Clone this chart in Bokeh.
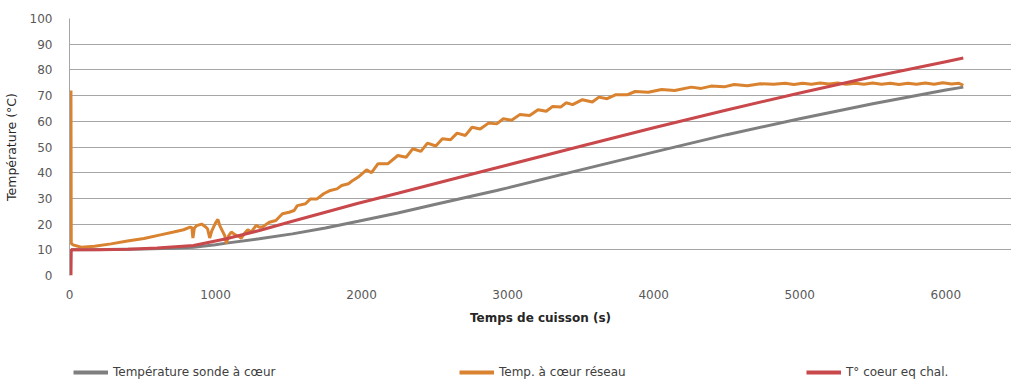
from bokeh.plotting import figure
from bokeh.models import Range1d, FixedTicker, Legend, LegendItem
from bokeh.layouts import column
from bokeh.embed import file_html
from bokeh.resources import INLINE

# ---- data ----
sonde_t = [10, 250, 500, 700, 849, 1000, 1074, 1300, 1526, 1752, 1977, 2248, 2500,
           2925, 3000, 3500, 4000, 4500, 5000, 5500, 6000, 6120]
sonde_T = [10, 10.1, 10.3, 10.6, 11.0, 12.0, 12.6, 14.3, 16.2, 18.5, 21.1, 24.3, 27.6,
           33.1, 34.1, 41.1, 48.0, 54.8, 61.0, 66.8, 72.2, 73.3]

reseau_t = [10, 12, 24, 81, 171, 284, 397, 510, 623, 713, 781, 826, 838, 845, 855, 871,
            905, 930, 945, 960, 975, 1000, 1016, 1029, 1050, 1063, 1074, 1090, 1108,
            1125, 1142, 1160, 1176, 1200, 1221, 1244, 1278, 1300, 1323, 1368, 1413,
            1458, 1504, 1538, 1560, 1616, 1650, 1695, 1740, 1786, 1831, 1864, 1910,
            1940, 1977, 2034, 2068, 2113, 2181, 2248, 2305, 2350, 2406, 2451, 2508,
            2553, 2609, 2654, 2711, 2756, 2812, 2869, 2925, 2971, 3027, 3083, 3151,
            3208, 3264, 3309, 3365, 3400, 3445, 3512, 3580, 3625, 3681, 3738, 3817,
            3873, 3963, 4054, 4144, 4257, 4325, 4393, 4483, 4551, 4641, 4731, 4822,
            4900, 4960, 5020, 5080, 5140, 5200, 5260, 5320, 5380, 5440, 5500, 5560,
            5620, 5680, 5740, 5800, 5860, 5920, 5980, 6040, 6090, 6120]
reseau_T = [72, 12.5, 11.9, 11.0, 11.4, 12.3, 13.4, 14.4, 15.8, 16.9, 17.8, 18.8, 18.6,
            14.6, 18.5, 19.4, 20.0, 19.0, 18.2, 14.6, 17.5, 20.5, 21.8, 19.4, 17.0,
            15.5, 12.5, 15.5, 16.9, 16.2, 15.6, 15.2, 14.5, 16.5, 17.8, 16.9, 19.5,
            18.8, 19.0, 20.7, 21.4, 24.0, 24.6, 25.3, 27.2, 27.9, 29.8, 29.8, 31.8,
            33.1, 33.7, 35.0, 35.7, 37.0, 38.3, 41.1, 40.0, 43.5, 43.5, 46.7, 46.0,
            49.3, 48.3, 51.5, 50.4, 53.2, 52.8, 55.4, 54.5, 57.7, 57.0, 59.3, 59.0,
            61.0, 60.4, 62.6, 62.3, 64.5, 63.9, 65.8, 65.6, 67.2, 66.5, 68.4, 67.5,
            69.4, 68.8, 70.3, 70.3, 71.6, 71.3, 72.4, 72.0, 73.3, 72.8, 73.7, 73.4,
            74.3, 73.8, 74.6, 74.4, 74.8, 74.3, 74.8, 74.4, 74.9, 74.5, 74.9, 74.4,
            74.8, 74.4, 74.9, 74.4, 74.8, 74.3, 74.8, 74.4, 74.9, 74.4, 75.0, 74.5,
            74.8, 74.0]

chal_t = [10, 12, 200, 400, 600, 849, 1074, 1300, 1526, 1752, 1977, 2248, 2500, 2925,
          3000, 3500, 4000, 4500, 5000, 5500, 6000, 6120]
chal_T = [0, 10, 10, 10.2, 10.7, 11.7, 14.3, 17.5, 21.1, 24.6, 28.1, 32.0, 35.7, 41.9,
          43.0, 50.3, 57.5, 64.4, 71.0, 77.3, 83.2, 84.6]

names = ["Température sonde à cœur", "Temp. à cœur réseau", "T° coeur eq chal."]
colors = ["#7F7F7F", "#D9822F", "#C8484B"]
x_ticks = [0, 1000, 2000, 3000, 4000, 5000, 6000]
y_ticks = [0, 10, 20, 30, 40, 50, 60, 70, 80, 90, 100]

FONT = "DejaVu Sans"

p = figure(width=1011, height=335, output_backend="svg", toolbar_location=None,
           x_range=Range1d(0, 6450), y_range=Range1d(0, 100),
           min_border_left=60, min_border_right=0, min_border_top=18,
           min_border_bottom=60)
p.outline_line_color = None
p.xgrid.grid_line_color = None
p.ygrid.grid_line_color = "#A6A6A6"
p.ygrid.grid_line_width = 1

p.xaxis.ticker = FixedTicker(ticks=x_ticks)
p.yaxis.ticker = FixedTicker(ticks=y_ticks)
for ax in (p.xaxis[0], p.yaxis[0]):
    ax.major_tick_line_color = None
    ax.minor_tick_line_color = None
    ax.major_label_text_font = FONT
    ax.major_label_text_font_size = "12px"
    ax.major_label_text_color = "#595959"
    ax.axis_label_text_font = FONT
    ax.axis_label_text_color = "#262626"
p.xaxis.axis_line_color = None
p.yaxis.axis_line_color = "#A6A6A6"
p.xaxis.major_label_standoff = 8
p.yaxis.major_label_standoff = 11
p.xaxis.axis_label = "Temps de cuisson (s)"
p.xaxis.axis_label_text_font_style = "bold"
p.xaxis.axis_label_text_font_size = "12px"
p.xaxis.axis_label_standoff = 9
p.yaxis.axis_label = "Température (°C)"
p.yaxis.axis_label_text_font_style = "normal"
p.yaxis.axis_label_text_font_size = "12.5px"
p.yaxis.axis_label_standoff = 8

p.line(sonde_t, sonde_T, line_color=colors[0], line_width=3)
p.line(reseau_t, reseau_T, line_color=colors[1], line_width=3)
p.line(chal_t, chal_T, line_color=colors[2], line_width=3)

# legend strip below the chart (swatch renderers lie outside its visible range)
lg = figure(width=1011, height=44, output_backend="svg", toolbar_location=None,
            x_range=Range1d(0, 1), y_range=Range1d(0, 1),
            min_border_left=60, min_border_right=0, min_border_top=0,
            min_border_bottom=0)
lg.axis.visible = False
lg.grid.visible = False
lg.outline_line_color = None
swatches = [lg.line([5, 6], [5, 6], line_color=c, line_width=4) for c in colors]

for r, name, lx in zip(swatches, names, [4, 390, 737]):
    leg = Legend(items=[LegendItem(label=name, renderers=[r])],
                 location=(lx, 0), orientation="horizontal",
                 glyph_width=35, glyph_height=12, label_height=12,
                 label_standoff=5, padding=0, margin=0, spacing=0,
                 background_fill_alpha=0, border_line_color=None,
                 label_text_font=FONT, label_text_font_size="12px",
                 label_text_color="#404040")
    lg.add_layout(leg, "center")

layout = column(p, lg, spacing=0)
open("out.html", "w").write(file_html(layout, INLINE))
